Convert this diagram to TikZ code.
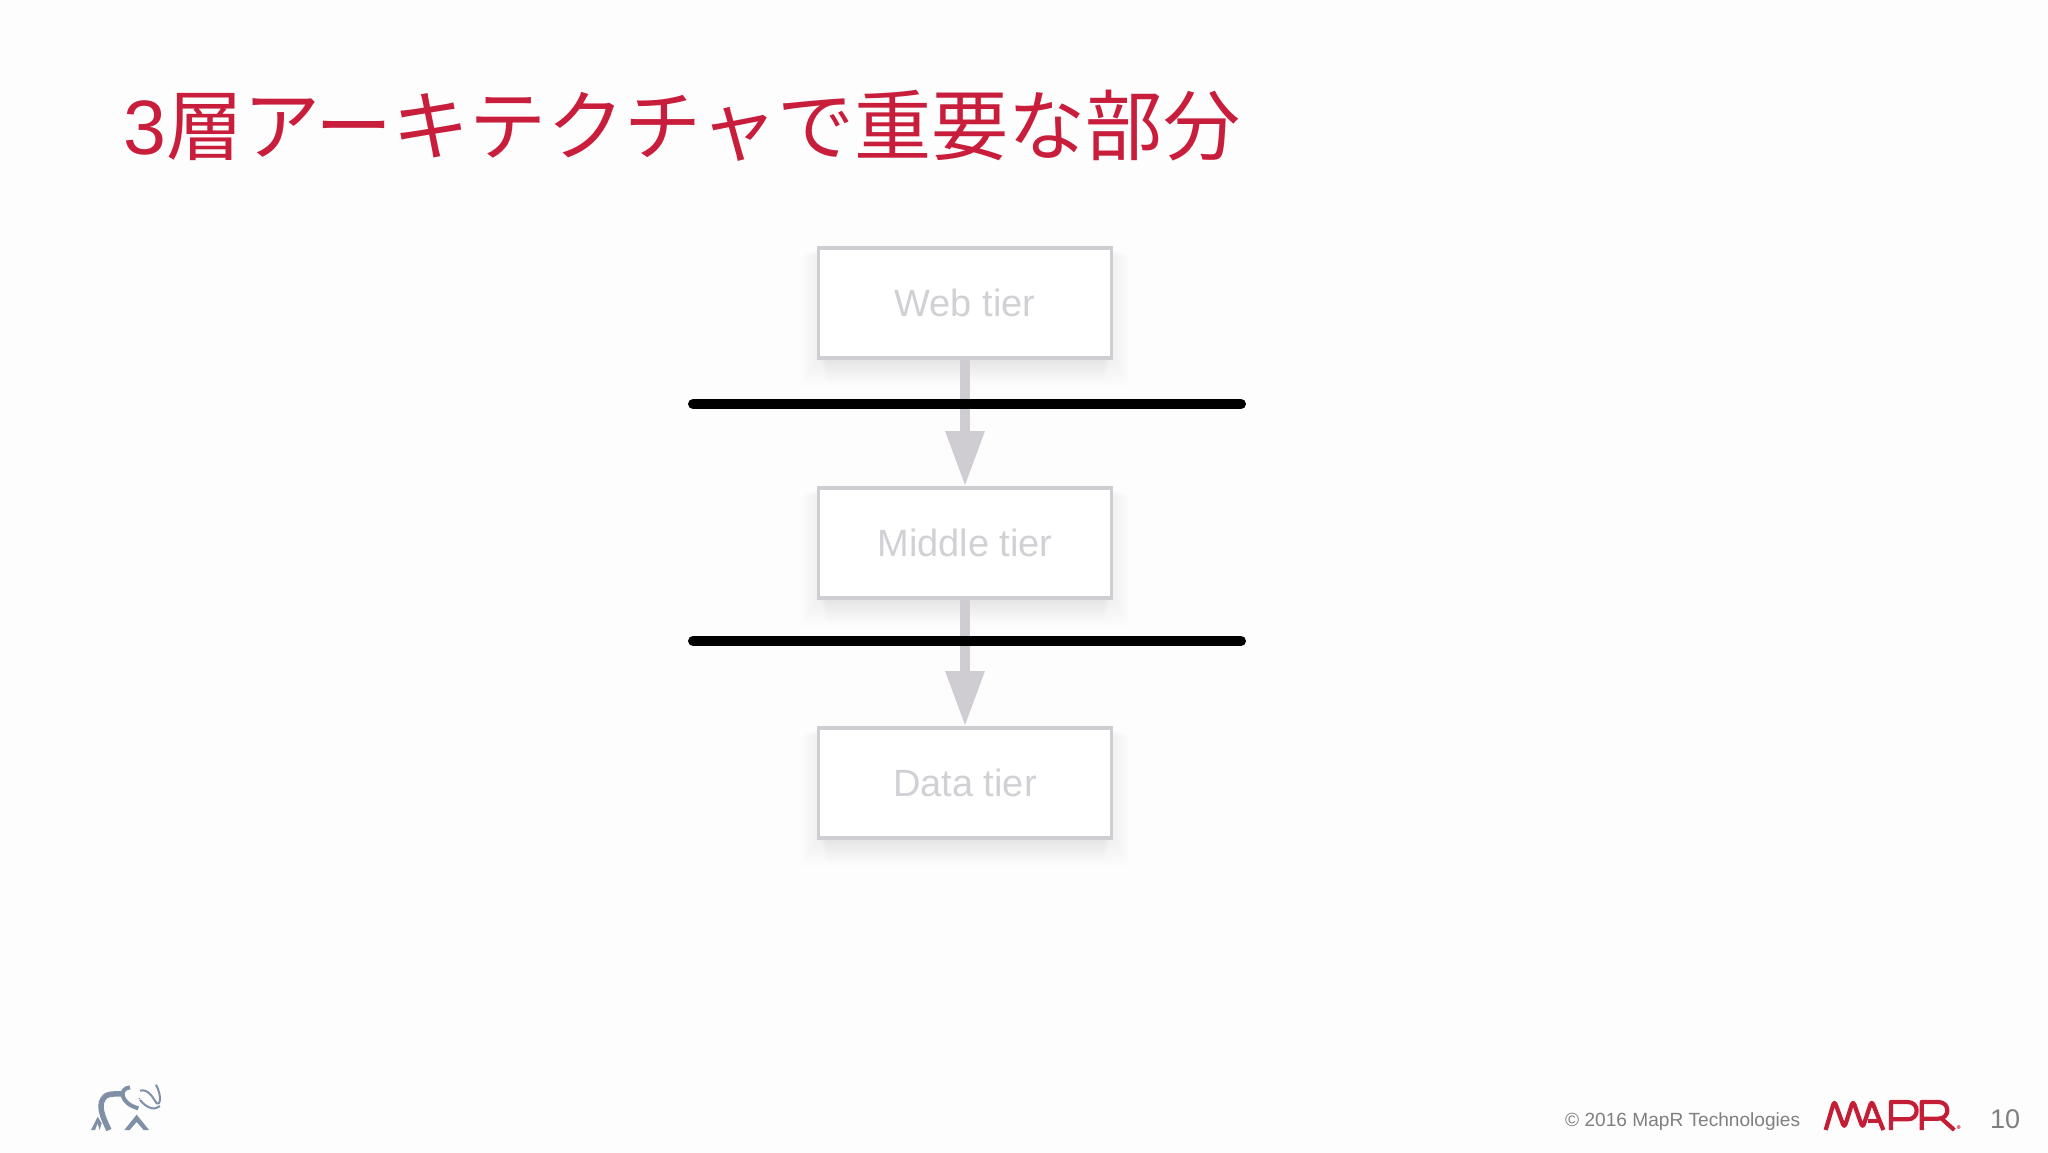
\documentclass[tikz,border=0pt]{standalone}
\usepackage{fontspec}
\setmainfont{Liberation Sans}
\newfontfamily\cjk{Noto Sans CJK JP}
\usetikzlibrary{calc,backgrounds}
\definecolor{bgc}{HTML}{FEFDFE}
\definecolor{tierc}{HTML}{CFCDD1}
\definecolor{txtc}{HTML}{D2D0D4}
\definecolor{red1}{HTML}{C81E3C}
\definecolor{logored}{HTML}{C41E36}
\definecolor{footc}{HTML}{7F7F82}
\definecolor{elec}{HTML}{7F8FA6}
\newcommand{\softshade}[1]{%
  \foreach \g in {2,4,...,26}{%
    \fill[black,opacity=0.0035] ([xshift=-\g*0.7 pt,yshift=-\g*0.3 pt]#1.north west) rectangle ([xshift=\g*0.7 pt,yshift=-\g*1.1 pt]#1.south east);%
  }%
  \foreach \g in {2,4,...,24}{%
    \fill[black,opacity=0.005] ([xshift=\g*0.3 pt,yshift=-\g pt]#1.south west) rectangle ([xshift=-\g*0.3 pt,yshift=0pt]#1.south east);%
  }%
}
\tikzset{
  tier/.style={draw=tierc,line width=3.5pt,fill=white,minimum width=293pt,minimum height=110pt,inner sep=0pt,text=txtc,font=\fontsize{38}{38}\selectfont,outer sep=0pt},
  barline/.style={line width=10pt,line cap=round,black},
  flow/.style={tierc,line width=10pt},
  headtip/.style={fill=tierc,draw=none},
  logo/.style={logored,line width=4.2pt,line join=round,line cap=butt,rounded corners=4pt},
  ele/.style={elec,line width=5.5pt,line cap=butt},
  footer/.style={inner sep=0pt,text=footc,anchor=base west}
}
\begin{document}
\begin{tikzpicture}[x=1pt,y=-1pt]
\useasboundingbox (0,0) rectangle (2048,1153);
\node[anchor=base west,inner sep=0pt,text=red1,font=\fontsize{77.1}{77.1}\selectfont] (title) at (123,155) {3{\cjk 層アーキテクチャで重要な部分}};
\node[tier] (web) at (965,303) {Web tier};
\node[tier] (mid) at (965,543) {Middle tier};
\node[tier] (dat) at (965,783) {Data tier};
\coordinate (tipa) at ($(mid.north)+(0,-3)$);
\coordinate (tipb) at ($(dat.north)+(0,-3)$);
\coordinate (neck1) at ($(tipa)+(0,-54)$);
\coordinate (neck2) at ($(tipb)+(0,-54)$);
\draw[flow] (web.south) -- (neck1);
\draw[flow] (mid.south) -- (neck2);
\fill[headtip] (tipa) -- ($(neck1)+(-20,0)$) -- ($(neck1)+(20,0)$) -- cycle;
\fill[headtip] (tipb) -- ($(neck2)+(-20,0)$) -- ($(neck2)+(20,0)$) -- cycle;
\coordinate (b1l) at (693,404);
\coordinate (b1r) at (1241,404);
\coordinate (b2l) at (693,641);
\coordinate (b2r) at (1241,641);
\draw[barline] (b1l) -- (b1r);
\draw[barline] (b2l) -- (b2r);
\node[footer,font=\fontsize{19.1}{19.1}\selectfont] (copy) at (1565,1126) {© 2016 MapR Technologies};
\node[footer,font=\fontsize{27}{27}\selectfont] (pagenum) at (1990,1128) {10};
% MapR logo
\begin{scope}[shift={(1815,1090)},x=0.3333pt,y=-0.3333pt]
\draw[logo] (32,120) -- (58,32) -- (88,114) -- (114,32) -- (143,114) -- (170,32) -- (205,120);
\draw[logo,rounded corners=0pt] (160,92) -- (196,92);
\draw[logo,rounded corners=0pt] (228,120) -- (228,36) -- (278,36) .. controls (314,36) and (314,88) .. (278,88) -- (228,88);
\draw[logo,rounded corners=0pt] (320,120) -- (320,36) -- (370,36) .. controls (406,36) and (406,86) .. (370,86) -- (320,86);
\draw[logo,rounded corners=0pt] (380,86) -- (418,120);
\fill[logored!60] (431,111) circle (6);
\end{scope}
% elephant
\begin{scope}[shift={(85,1080)},x=0.3333pt,y=-0.3333pt]
\draw[ele] (72,150) .. controls (52,110) and (35,70) .. (62,48) .. controls (72,40) and (95,42) .. (113,42);
\draw[ele,line width=4pt] (135,22) .. controls (100,25) and (105,70) .. (160,85);
\draw[elec,line width=2pt] (165,32) .. controls (190,25) and (205,55) .. (215,70) .. controls (225,78) and (232,50) .. (213,14);
\draw[elec,line width=2pt] (165,60) .. controls (185,85) and (210,92) .. (225,78);
\fill[elec] (18,150) -- (38,110) -- (50,130) -- (44,150) -- (38,130) -- (30,150) -- cycle;
\fill[elec] (118,150) -- (155,104) -- (192,150) -- (176,150) -- (155,126) -- (134,150) -- cycle;
\fill[elec] (163,56) circle (2.5);
\end{scope}
\begin{scope}[on background layer]
\fill[bgc] (0,0) rectangle (2048,1153);
\softshade{web}\softshade{mid}\softshade{dat}
\end{scope}
\end{tikzpicture}
\end{document}
